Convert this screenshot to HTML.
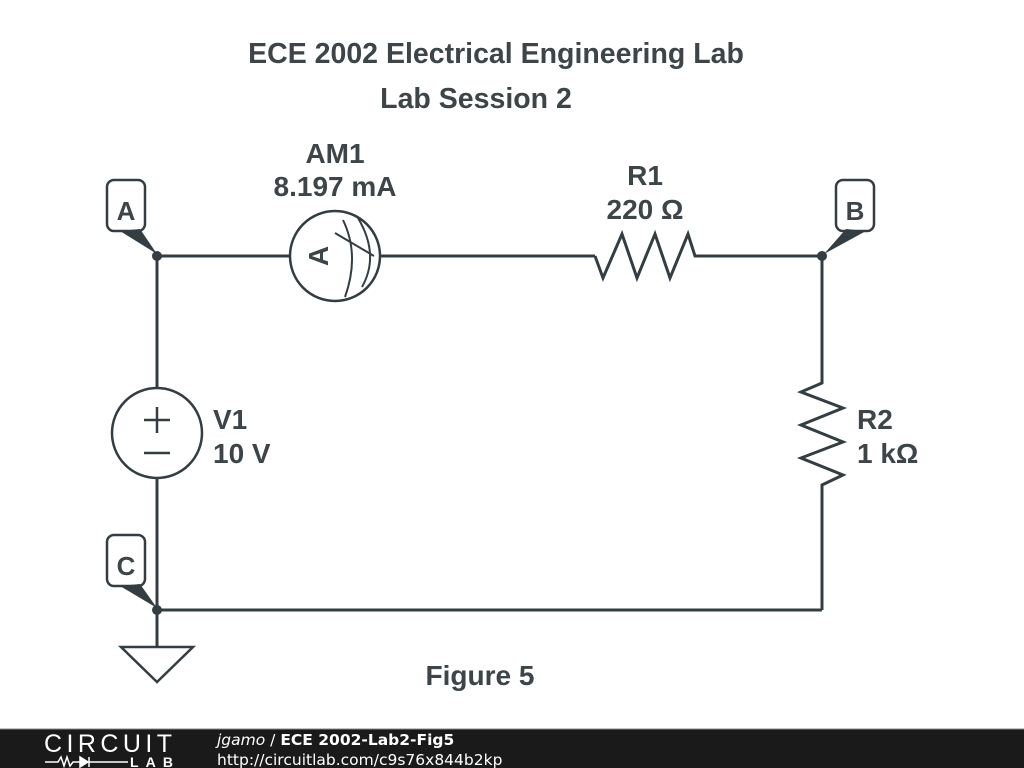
<!DOCTYPE html>
<html><head><meta charset="utf-8"><style>
html,body{margin:0;padding:0;background:#fff;width:1024px;height:768px;overflow:hidden}
svg{display:block}
text{font-family:"Liberation Sans",Arial,sans-serif;font-weight:bold;fill:#3d4548}
</style></head><body>
<svg width="1024" height="768" viewBox="0 0 1024 768">
<g stroke="#343d42" stroke-width="3" fill="none" stroke-linejoin="miter">
 <line x1="157" y1="256" x2="290" y2="256"/>
 <line x1="380" y1="256" x2="595" y2="256"/>
 <polyline points="595,256 603,278 622,234 637,278 655,234 670,278 688,234 695,256 822,256"/>
 <line x1="157" y1="256" x2="157" y2="388"/>
 <line x1="157" y1="478" x2="157" y2="647"/>
 <line x1="157" y1="610" x2="822" y2="610"/>
 <polyline points="822,256 822,383 801,392 843,408 801,425 843,442 801,458 843,475 822,485 822,610"/>
 <circle cx="335" cy="256" r="45" stroke-width="2.5"/>
 <circle cx="157" cy="433" r="45" stroke-width="2.5"/>
 <line x1="144" y1="420" x2="170" y2="420" stroke-width="2.5"/>
 <line x1="157" y1="407" x2="157" y2="433" stroke-width="2.5"/>
 <line x1="144" y1="453" x2="170" y2="453" stroke-width="2.5"/>
 <polygon points="121,647 193,647 157,682" stroke-width="2.5"/>
 <rect x="107" y="180" width="38" height="51" rx="7" stroke-width="2.5"/>
 <rect x="836" y="180" width="38" height="51" rx="7" stroke-width="2.5"/>
 <rect x="107" y="535" width="38" height="51" rx="7" stroke-width="2.5"/>
 <path d="M343,220 Q360,255 345,297" stroke-width="2"/>
 <path d="M358,218 Q380,255 362,287" stroke-width="2"/>
 <line x1="335" y1="233" x2="374" y2="256" stroke-width="2"/>
</g>
<g fill="#343d42">
 <circle cx="157" cy="256" r="5"/><circle cx="822" cy="256" r="5"/><circle cx="157" cy="610" r="5"/>
 <polygon points="120,231 140,229 157,254"/>
 <polygon points="846,229 866,231 824,254"/>
 <polygon points="120,586 140,584 157,608"/>
</g>
<text x="496" y="63" font-size="28.5" text-anchor="middle">ECE 2002 Electrical Engineering Lab</text>
<text x="476" y="108" font-size="28.5" text-anchor="middle">Lab Session 2</text>
<text x="335" y="163" font-size="28" text-anchor="middle">AM1</text>
<text x="335" y="196" font-size="28" text-anchor="middle">8.197 mA</text>
<text x="645" y="185" font-size="28" text-anchor="middle">R1</text>
<text x="645" y="219" font-size="28" text-anchor="middle">220 Ω</text>
<text x="213" y="429" font-size="28">V1</text>
<text x="213" y="463" font-size="28">10 V</text>
<text x="857" y="429" font-size="28">R2</text>
<text x="857" y="463" font-size="28">1 kΩ</text>
<text x="480" y="685" font-size="28" text-anchor="middle">Figure 5</text>
<text x="126" y="220" font-size="26" text-anchor="middle">A</text>
<text x="855" y="220" font-size="26" text-anchor="middle">B</text>
<text x="126" y="575" font-size="26" text-anchor="middle">C</text>
<text x="0" y="0" font-size="28" text-anchor="middle" transform="translate(318,256) rotate(-90)" dy="10">A</text>
<rect x="0" y="729" width="1024" height="39" fill="#1a1a1a"/>
<line x1="0" y1="729" x2="1024" y2="729" stroke="#888" stroke-width="1"/>
<text x="44" y="752" font-size="25" textLength="128" style="font-weight:normal;fill:#fff">CIRCUIT</text>
<g stroke="#fff" stroke-width="1.5" fill="none"><polyline points="45,762 58,762 61,757 64,766 67,757 70,766 73,762 80,762"/><polygon points="80,757 80,767 88,762" fill="#fff"/><line x1="89" y1="757" x2="89" y2="767"/><line x1="89" y1="762" x2="128" y2="762"/></g>
<text x="130" y="767" font-size="14" textLength="43" style="fill:#fff">LAB</text>
<text x="217" y="745" font-size="15.5" style="font-weight:normal;fill:#fff;font-family:'DejaVu Sans',sans-serif"><tspan font-style="italic">jgamo</tspan> / <tspan font-weight="bold">ECE 2002-Lab2-Fig5</tspan></text>
<text x="217" y="765" font-size="15.5" style="font-weight:normal;fill:#fff;font-family:'DejaVu Sans',sans-serif">http://circuitlab.com/c9s76x844b2kp</text>
</svg>
</body></html>
